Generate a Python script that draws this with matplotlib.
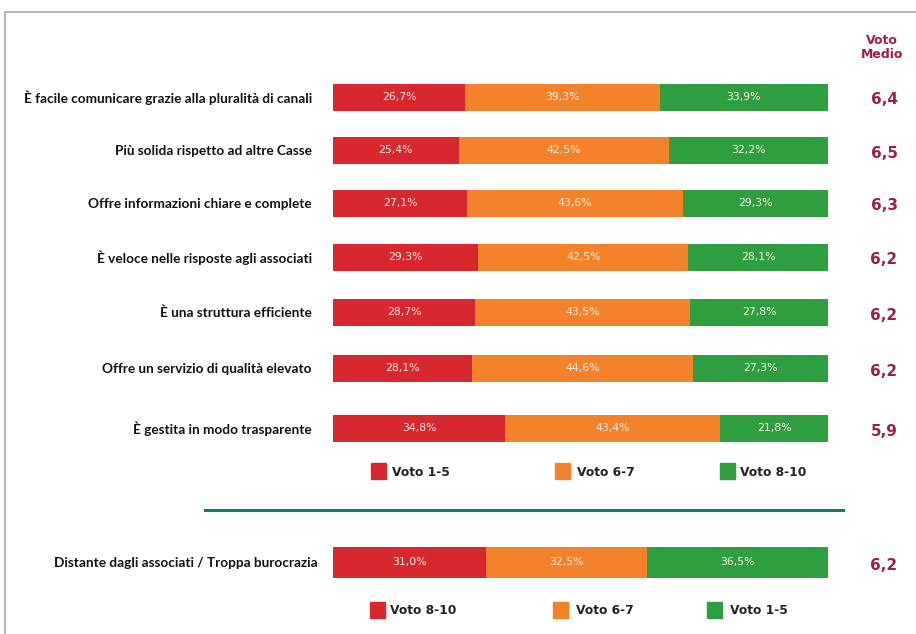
import matplotlib.pyplot as plt
from matplotlib.patches import Rectangle
import numpy as np

# data
labels = [
    "È facile comunicare grazie alla pluralità di canali",
    "Più solida rispetto ad altre Casse",
    "Offre informazioni chiare e complete",
    "È veloce nelle risposte agli associati",
    "È una struttura efficiente",
    "Offre un servizio di qualità elevato",
    "È gestita in modo trasparente",
]
low = [26.7, 25.4, 27.1, 29.3, 28.7, 28.1, 34.8]
mid = [39.3, 42.5, 43.6, 42.5, 43.5, 44.6, 43.4]
high = [33.9, 32.2, 29.3, 28.1, 27.8, 27.3, 21.8]
voto_medio = ["6,4", "6,5", "6,3", "6,2", "6,2", "6,2", "5,9"]
legend_top = ["Voto 1-5", "Voto 6-7", "Voto 8-10"]

label_bottom = "Distante dagli associati / Troppa burocrazia"
bottom_vals = [31.0, 32.5, 36.5]
bottom_medio = "6,2"
legend_bottom = ["Voto 8-10", "Voto 6-7", "Voto 1-5"]

colors = ["#d7282f", "#f4822a", "#2f9e3f"]
wine = "#9e1f4f"

fig = plt.figure(figsize=(9.16, 6.34), dpi=100)
ax = fig.add_axes([0, 0, 1, 1])
ax.set_xlim(0, 916)
ax.set_ylim(634, 0)
ax.axis("off")

lab_font = dict(family="Lato", fontweight="bold", fontsize=9.8, color="#111111")
leg_font = dict(family="DejaVu Sans", fontweight="bold", fontsize=8.8, color="#222222")

# frame
ax.plot([5, 5, 916], [634, 12, 12], color="#a8a8a8", lw=1.2)

x0, scale = 333, 4.95
row_y = [97, 150, 203, 257, 312, 368, 428]
bar_h = 27


def draw_bar(y, vals, h):
    left = x0
    for v, c in zip(vals, colors):
        w = v * scale
        ax.barh(y, w, left=left, height=h, color=c, edgecolor="none")
        ax.text(left + w / 2, y, f"{v:.1f}%".replace(".", ","), ha="center", va="center",
                fontsize=7.8, color="#fbeee6", family="DejaVu Sans")
        left += w


for i, y in enumerate(row_y):
    draw_bar(y, [low[i], mid[i], high[i]], bar_h)
    ax.text(312, y + 1, labels[i], ha="right", va="center", **lab_font)
    ax.text(884, y + 3, voto_medio[i], ha="center", va="center", color=wine,
            fontsize=11, fontweight="bold", family="DejaVu Sans")

ax.text(882, 47, "Voto\nMedio", ha="center", va="center", color=wine,
        fontsize=9, fontweight="bold", family="DejaVu Sans", linespacing=1.1)


def draw_legend(items, y, xs):
    for (sx, tx), name, c in zip(xs, items, colors):
        ax.add_patch(Rectangle((sx, y - 8), 15, 16, color=c))
        ax.text(tx, y + 1, name, ha="left", va="center", **leg_font)


draw_legend(legend_top, 471, [(371, 392), (555, 577), (720, 740)])

ax.plot([205, 843], [510, 510], color="#0e7d6a", lw=2.2)

draw_bar(562, bottom_vals, 31)
ax.text(318, 563, label_bottom, ha="right", va="center", **lab_font)
ax.text(884, 565, bottom_medio, ha="center", va="center", color=wine,
        fontsize=11, fontweight="bold", family="DejaVu Sans")

draw_legend(legend_bottom, 610, [(370, 390), (553, 576), (707, 730)])

fig.savefig("out.png", dpi=100)
